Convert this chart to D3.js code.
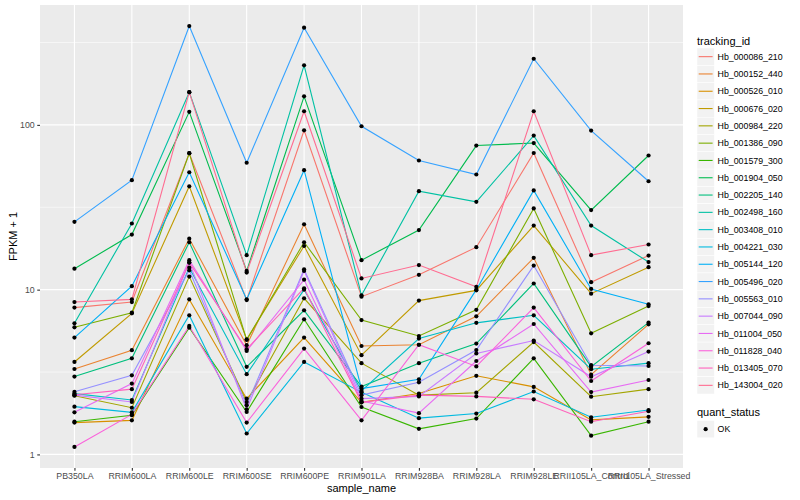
<!DOCTYPE html>
<html>
<head>
<meta charset="utf-8">
<script src="https://cdn.jsdelivr.net/npm/d3@7"></script>
<style>
  body { margin: 0; background: #fff; }
  text { font-family: "Liberation Sans", Arial, Helvetica, sans-serif; }
</style>
</head>
<body>
<div id="holder"></div>
<script>
// sample order on the x axis
var samples = ["PB350LA", "RRIM600LA", "RRIM600LE", "RRIM600SE", "RRIM600PE", "RRIM901LA",
  "RRIM928BA", "RRIM928LA", "RRIM928LE", "RRII105LA_Control", "RRII105LA_Stressed"];

var trackingIds = ["Hb_000086_210", "Hb_000152_440", "Hb_000526_010", "Hb_000676_020", "Hb_000984_220",
  "Hb_001386_090", "Hb_001579_300", "Hb_001904_050", "Hb_002205_140", "Hb_002498_160",
  "Hb_003408_010", "Hb_004221_030", "Hb_005144_120", "Hb_005496_020", "Hb_005563_010",
  "Hb_007044_090", "Hb_011004_050", "Hb_011828_040", "Hb_013405_070", "Hb_143004_020"];

// ggplot default hue palette, 20 levels
var colors = ["#F8766D", "#EA8331", "#D89000", "#C09B00", "#A3A500", "#7CAE00", "#39B600",
  "#00BB4E", "#00BF7D", "#00C1A3", "#00BFC4", "#00BAE0", "#00B0F6", "#35A2FF", "#9590FF",
  "#C77CFF", "#E76BF3", "#FA62DB", "#FF62BC", "#FF6C91"];

// FPKM + 1, one array per gene, same order as samples
var hb000086 = [7.78, 8.41, 67.3, 8.65, 92.7, 9.07, 12.3, 18.1, 67.5, 11.1, 16.1];
var hb000152 = [3.30, 4.29, 20.4, 4.60, 24.9, 4.55, 4.63, 6.89, 15.6, 3.05, 6.16];
var hb000526 = [1.56, 1.61, 8.73, 2.18, 5.12, 2.07, 2.34, 3.00, 2.57, 1.62, 1.69];
var hb000676 = [3.64, 7.18, 42.4, 5.00, 18.4, 4.00, 8.58, 9.90, 24.5, 9.46, 13.7];
var hb000984 = [2.27, 1.92, 12.0, 2.08, 8.86, 3.58, 2.29, 2.37, 4.81, 2.24, 2.49];
var hb001386 = [5.91, 7.25, 67.3, 4.95, 19.4, 6.54, 5.23, 7.54, 31.1, 5.43, 7.95];
var hb001579 = [1.58, 1.73, 5.88, 1.81, 6.61, 1.94, 1.43, 1.65, 3.83, 1.30, 1.58];
var hb001904 = [13.4, 21.6, 120, 13.0, 149, 15.1, 23.0, 74.9, 77.6, 30.4, 65.2];
var hb002205 = [2.97, 3.83, 19.4, 3.40, 7.49, 2.58, 3.58, 4.71, 10.9, 3.41, 6.31];
var hb002498 = [6.25, 25.2, 158, 16.2, 230, 9.24, 39.6, 34.1, 86.1, 24.5, 14.7];
var hb003408 = [2.34, 2.14, 13.6, 3.07, 10.0, 2.43, 5.05, 6.29, 6.99, 3.29, 3.58];
var hb004221 = [1.95, 1.80, 6.99, 1.34, 3.64, 2.38, 1.66, 1.77, 2.41, 1.68, 1.86];
var hb005144 = [5.12, 10.5, 51.6, 8.73, 53.1, 2.51, 2.86, 10.0, 40.0, 10.1, 8.15];
var hb005496 = [25.8, 46.2, 398, 58.9, 389, 98.1, 60.8, 50.0, 252, 92.4, 45.5];
var hb005563 = [2.40, 3.02, 13.1, 1.99, 13.3, 2.29, 2.74, 4.30, 14.0, 3.48, 3.44];
var hb007044 = [2.29, 2.08, 14.6, 1.88, 13.0, 2.18, 2.25, 4.10, 4.91, 2.96, 4.21];
var hb011004 = [1.80, 2.69, 15.1, 4.25, 11.5, 2.11, 1.78, 3.69, 6.19, 2.39, 2.83];
var hb011828 = [1.11, 1.75, 6.02, 1.56, 4.39, 1.61, 4.63, 3.42, 7.78, 2.79, 4.73];
var hb013405 = [2.30, 2.49, 14.6, 4.35, 10.2, 2.07, 2.29, 2.25, 2.16, 1.58, 1.83];
var hb143004 = [8.41, 8.73, 158, 12.7, 121, 11.7, 14.1, 10.4, 121, 16.2, 18.8];

var seriesValues = [hb000086, hb000152, hb000526, hb000676, hb000984, hb001386, hb001579,
  hb001904, hb002205, hb002498, hb003408, hb004221, hb005144, hb005496, hb005563,
  hb007044, hb011004, hb011828, hb013405, hb143004];

var yTicks = [1, 10, 100];
var yMinor = [Math.pow(10, 0.5), Math.pow(10, 1.5), Math.pow(10, 2.5)];

var width = 800;
var height = 500;
var panelLeft = 40, panelRight = 683, panelTop = 5, panelBottom = 468;

var svg = d3.select("#holder").append("svg")
  .attr("width", width)
  .attr("height", height);

var x = d3.scalePoint()
  .domain(samples)
  .range([panelLeft, panelRight])
  .padding(0.6);

// log scale with 5% expansion like ggplot
var allLogs = [];
seriesValues.forEach(function(s){ s.forEach(function(v){ allLogs.push(Math.log10(v)); }); });
var lo = d3.min(allLogs), hi = d3.max(allLogs);
var ex = (hi - lo) * 0.05;
var y = d3.scaleLog()
  .domain([Math.pow(10, lo - ex), Math.pow(10, hi + ex)])
  .range([panelBottom, panelTop]);

// panel
svg.append("rect")
  .attr("x", panelLeft).attr("y", panelTop)
  .attr("width", panelRight - panelLeft).attr("height", panelBottom - panelTop)
  .attr("fill", "#EBEBEB");

var grid = svg.append("g");
grid.selectAll(".minor").data(yMinor).enter().append("line")
  .attr("x1", panelLeft).attr("x2", panelRight)
  .attr("y1", d => y(d)).attr("y2", d => y(d))
  .attr("stroke", "#fff").attr("stroke-width", 0.55);
grid.selectAll(".major").data(yTicks).enter().append("line")
  .attr("x1", panelLeft).attr("x2", panelRight)
  .attr("y1", d => y(d)).attr("y2", d => y(d))
  .attr("stroke", "#fff").attr("stroke-width", 1.1);
grid.selectAll(".vmajor").data(samples).enter().append("line")
  .attr("x1", d => x(d)).attr("x2", d => x(d))
  .attr("y1", panelTop).attr("y2", panelBottom)
  .attr("stroke", "#fff").attr("stroke-width", 1.1);

// lines
var line = d3.line()
  .x((d, i) => x(samples[i]))
  .y(d => y(d));

svg.append("g").selectAll("path")
  .data(seriesValues)
  .enter().append("path")
  .attr("d", d => line(d))
  .attr("fill", "none")
  .attr("stroke", (d, i) => colors[i])
  .attr("stroke-width", 1.1);

// points
var pts = [];
seriesValues.forEach(function(s){ s.forEach(function(v, i){ pts.push([samples[i], v]); }); });
svg.append("g").selectAll("circle")
  .data(pts)
  .enter().append("circle")
  .attr("cx", d => x(d[0]))
  .attr("cy", d => y(d[1]))
  .attr("r", 2.1)
  .attr("fill", "#000");

// axes
var xAxis = svg.append("g")
  .attr("transform", "translate(0," + panelBottom + ")")
  .call(d3.axisBottom(x).tickSize(2.75).tickPadding(2.5));
var yAxis = svg.append("g")
  .attr("transform", "translate(" + panelLeft + ",0)")
  .call(d3.axisLeft(y).tickValues(yTicks).tickFormat(d3.format("d")).tickSize(2.75).tickPadding(2.5));

[xAxis, yAxis].forEach(function(a){
  a.select(".domain").remove();
  a.selectAll(".tick line").attr("stroke", "#333333").attr("stroke-width", 1.1);
  a.selectAll(".tick text")
    .attr("fill", "#4D4D4D")
    .style("font-size", "8.8px")
    .style("font-family", '"Liberation Sans", Arial, sans-serif');
});

svg.append("text")
  .attr("x", (panelLeft + panelRight) / 2)
  .attr("y", 492)
  .attr("text-anchor", "middle")
  .style("font-size", "11px")
  .text("sample_name");

svg.append("text")
  .attr("transform", "translate(17," + ((panelTop + panelBottom) / 2) + ") rotate(-90)")
  .attr("text-anchor", "middle")
  .style("font-size", "11px")
  .text("FPKM + 1");

// legend: tracking_id
var legX = 697, keyH = 17.3, key0 = 48;
var leg = svg.append("g");
leg.append("text")
  .attr("x", legX).attr("y", 44.5)
  .style("font-size", "11px")
  .text("tracking_id");

var items = leg.selectAll(".item")
  .data(trackingIds)
  .enter().append("g")
  .attr("transform", (d, i) => "translate(" + legX + "," + (key0 + i * keyH) + ")");
items.append("rect")
  .attr("width", keyH).attr("height", keyH)
  .attr("fill", "#F2F2F2").attr("stroke", "#fff").attr("stroke-width", 0.5);
items.append("line")
  .attr("x1", 1.7).attr("x2", keyH - 1.7)
  .attr("y1", keyH / 2).attr("y2", keyH / 2)
  .attr("stroke", (d, i) => colors[i])
  .attr("stroke-width", 1.1);
items.append("text")
  .attr("x", keyH + 3.3).attr("y", keyH / 2 + 3.1)
  .style("font-size", "8.8px")
  .text(d => d);

// legend: quant_status
var q0 = 420.5;
leg.append("text")
  .attr("x", legX).attr("y", 416)
  .style("font-size", "11px")
  .text("quant_status");
leg.append("rect")
  .attr("x", legX).attr("y", q0)
  .attr("width", keyH).attr("height", keyH)
  .attr("fill", "#F2F2F2").attr("stroke", "#fff").attr("stroke-width", 0.5);
leg.append("circle")
  .attr("cx", legX + keyH / 2).attr("cy", q0 + keyH / 2)
  .attr("r", 2.1).attr("fill", "#000");
leg.append("text")
  .attr("x", legX + keyH + 3.3).attr("y", q0 + keyH / 2 + 3.1)
  .style("font-size", "8.8px")
  .text("OK");
</script>
</body>
</html>
